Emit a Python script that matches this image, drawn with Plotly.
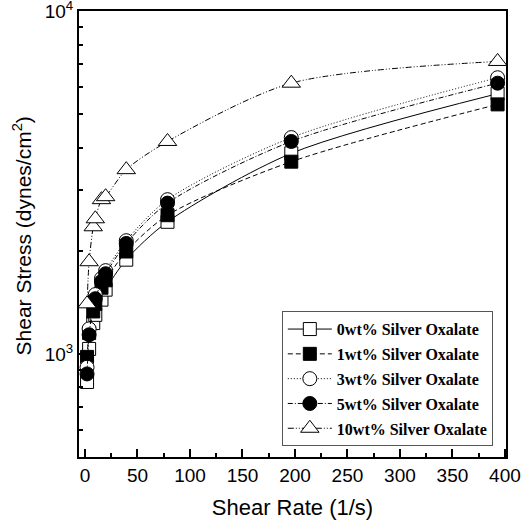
import plotly.graph_objects as go
import math

shear_rate = [1.97, 3.93, 7.86, 9.83, 15.7, 19.65, 39.3, 78.6, 196.5, 393]

stress_0wt = [828, 1034, 1230, 1300, 1440, 1540, 1884, 2430, 3850, 5750]
stress_1wt = [980, 1150, 1330, 1400, 1560, 1640, 1990, 2540, 3640, 5350]
stress_3wt = [914, 1183, 1420, 1490, 1660, 1750, 2140, 2820, 4280, 6400]
stress_5wt = [874, 1137, 1390, 1449, 1626, 1714, 2101, 2755, 4170, 6170]
stress_10wt = [1400, 1858, 2350, 2480, 2820, 2877, 3450, 4170, 6170, 7140]

names = ["0wt% Silver Oxalate", "1wt% Silver Oxalate", "3wt% Silver Oxalate",
         "5wt% Silver Oxalate", "10wt% Silver Oxalate"]
series = [stress_0wt, stress_1wt, stress_3wt, stress_5wt, stress_10wt]
symbols = ["square", "square", "circle", "circle", "triangle-up"]
fills = ["white", "black", "white", "black", "white"]
dashes = ["solid", "5px,3px", "1px,2px", "5px,2px,1px,2px", "6px,2px,1px,2px,1px,2px"]
sizes = [13, 13, 14, 14, 16]

fig = go.Figure()
for i, (nm, ys) in enumerate(zip(names, series)):
    fig.add_trace(go.Scatter(
        x=shear_rate, y=ys, name=nm, legendgroup=f"g{i}",
        mode="lines+markers",
        line=dict(color="black", width=1, dash=dashes[i], shape="spline", smoothing=0.8),
        marker=dict(symbol=symbols[i], size=sizes[i], color=fills[i],
                    line=dict(color="black", width=1)),
    ))

fig.update_layout(
    width=531, height=520,
    margin=dict(l=79, r=25, t=11, b=63, autoexpand=False),
    paper_bgcolor="white", plot_bgcolor="white",
    font=dict(family="Liberation Sans, Arial", color="black"),
    legend=dict(
        x=0.475, y=0.327, xanchor="left", yanchor="top",
        bgcolor="white", bordercolor="#555", borderwidth=1,
        font=dict(family="Liberation Serif, Times New Roman", size=16, weight="bold", color="black"),
        tracegroupgap=1, itemwidth=44,
    ),
    xaxis=dict(
        range=[-5.7, 401], tickmode="array", tickvals=[0, 50, 100, 150, 200, 250, 300, 350, 400],
        ticks="inside", ticklen=8, tickwidth=1.5, tickcolor="black",
        minor=dict(tickmode="array", tickvals=[25, 75, 125, 175, 225, 275, 325, 375],
                   ticks="inside", ticklen=4, tickwidth=1.5, tickcolor="black"),
        showline=True, linewidth=2, linecolor="black", mirror=True,
        showgrid=False, zeroline=False, automargin=False,
        ticklabeloverflow="allow",
        tickfont=dict(size=19),
        title=dict(text="Shear Rate (1/s)", font=dict(size=22)),
    ),
    yaxis=dict(
        type="log", range=[math.log10(500), 4.001],
        tickmode="array", tickvals=[1000, 10000], ticktext=["10<sup>3</sup>", "10<sup>4</sup>"],
        ticks="inside", ticklen=8, tickwidth=1.5, tickcolor="black",
        minor=dict(tickmode="array",
                   tickvals=[600, 700, 800, 900, 2000, 3000, 4000, 5000, 6000, 7000, 8000, 9000],
                   ticks="inside", ticklen=4, tickwidth=1.5, tickcolor="black"),
        showline=True, linewidth=2, linecolor="black", mirror=True,
        showgrid=False, zeroline=False, automargin=False,
        ticklabeloverflow="allow",
        tickfont=dict(size=19),
    ),
    annotations=[dict(
        text="Shear Stress (dynes/cm<sup>2</sup>)", xref="paper", yref="paper",
        x=-0.133, y=0.495, xanchor="center", yanchor="middle", textangle=-90,
        showarrow=False, font=dict(size=21),
    )],
)

fig.write_html("out.html")
